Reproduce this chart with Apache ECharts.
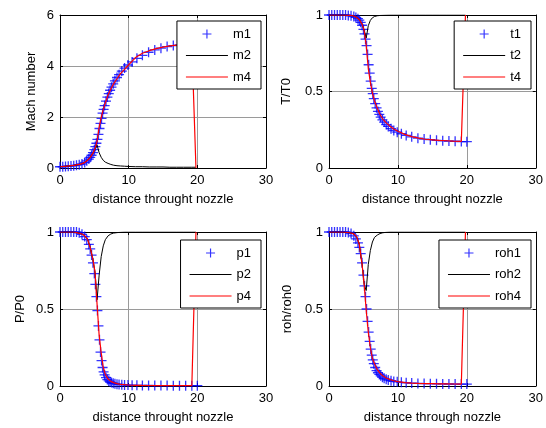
<!DOCTYPE html>
<html>
<head>
  <meta charset="utf-8">
  <title>nozzle flow</title>
  <script src="https://cdn.jsdelivr.net/npm/echarts@6/dist/echarts.min.js"></script>
</head>
<body style="margin:0">
  <div id="main" style="width:546px;height:428px;"></div>
  <script type="text/javascript">
    // blue "+" samples
    var xBlue = [0, 0.4, 0.8, 1.2, 1.6, 2.0, 2.4, 2.8, 3.2, 3.6,
      3.9, 4.2, 4.4, 4.6, 4.8, 5.0, 5.15, 5.3, 5.45, 5.6,
      5.75, 5.9, 6.05, 6.2, 6.35, 6.5, 6.7, 6.9, 7.1, 7.3,
      7.5, 7.75, 8.0, 8.3, 8.6, 9.0, 9.4, 9.9, 10.5, 11.2,
      12.0, 12.9, 13.8, 14.7, 15.6, 16.5, 17.4, 18.3, 19.2, 20.0];
    var m1 = [0.05, 0.05, 0.06, 0.07, 0.08, 0.09, 0.11, 0.13, 0.16, 0.22,
      0.28, 0.35, 0.42, 0.5, 0.6, 0.72, 0.84, 0.97, 1.12, 1.32,
      1.55, 1.75, 1.95, 2.15, 2.3, 2.45, 2.62, 2.78, 2.92, 3.05,
      3.17, 3.3, 3.42, 3.55, 3.66, 3.8, 3.92, 4.04, 4.16, 4.3,
      4.42, 4.54, 4.63, 4.7, 4.76, 4.8, 4.83, 4.86, 4.88, 4.9];
    var t1 = [1, 1, 1, 1, 1, 1, 1, 0.997, 0.995, 0.99,
      0.984, 0.976, 0.966, 0.952, 0.933, 0.906, 0.876, 0.842, 0.8, 0.742,
      0.675, 0.62, 0.568, 0.52, 0.486, 0.454, 0.421, 0.393, 0.37, 0.35,
      0.332, 0.315, 0.3, 0.284, 0.272, 0.257, 0.245, 0.234, 0.224, 0.213,
      0.204, 0.195, 0.189, 0.185, 0.181, 0.178, 0.176, 0.175, 0.173, 0.172];
    var p1 = [1, 1, 1, 1, 1, 1, 1, 0.995, 0.985, 0.97,
      0.95, 0.92, 0.89, 0.85, 0.8, 0.73, 0.66, 0.58, 0.49, 0.39,
      0.3, 0.22, 0.165, 0.12, 0.092, 0.072, 0.054, 0.042, 0.033, 0.027,
      0.022, 0.018, 0.015, 0.012, 0.01, 0.0085, 0.0072, 0.006, 0.005, 0.0044,
      0.0038, 0.0033, 0.003, 0.0027, 0.0025, 0.0024, 0.0023, 0.0022, 0.0021, 0.002];
    var roh1 = [1, 1, 1, 1, 1, 1, 1, 0.997, 0.99, 0.975,
      0.955, 0.93, 0.9, 0.86, 0.8, 0.72, 0.65, 0.58, 0.5, 0.42,
      0.35, 0.29, 0.24, 0.2, 0.17, 0.145, 0.12, 0.1, 0.086, 0.075,
      0.066, 0.057, 0.05, 0.044, 0.039, 0.034, 0.03, 0.027, 0.024, 0.021,
      0.019, 0.017, 0.016, 0.015, 0.014, 0.0135, 0.013, 0.0128, 0.0125, 0.0123];

    // black (2) and red (4) lines
    var xLine = [0, 1, 2, 3, 3.5, 4, 4.4, 4.8, 5.1, 5.4,
      5.7, 6.0, 6.3, 6.6, 7.0, 7.4, 7.8, 8.3, 8.8, 9.4,
      10, 11, 12, 13, 14, 15, 16, 17, 18, 19.2, 19.8];
    var m2 = [0.05, 0.07, 0.1, 0.15, 0.2, 0.3, 0.42, 0.58, 0.76, 0.9,
      0.6, 0.42, 0.3, 0.23, 0.18, 0.14, 0.11, 0.09, 0.08, 0.07,
      0.06, 0.05, 0.05, 0.04, 0.04, 0.04, 0.03, 0.03, 0.03, 0.03, 0.03];
    var m4 = [0.05, 0.07, 0.1, 0.15, 0.2, 0.3, 0.42, 0.58, 0.76, 1.05,
      1.6, 1.98, 2.3, 2.55, 2.86, 3.1, 3.3, 3.5, 3.7, 3.87,
      4.05, 4.33, 4.5, 4.6, 4.68, 4.74, 4.79, 4.82, 4.85, 4.87, 0];
    var t2 = [1, 1, 1, 0.998, 0.995, 0.985, 0.97, 0.94, 0.9, 0.85,
      0.93, 0.965, 0.982, 0.99, 0.995, 0.997, 0.998, 0.999, 1, 1,
      1, 1, 1, 1, 1, 1, 1, 1, 1, 1, 1];
    var t4 = [1, 1, 1, 0.998, 0.995, 0.985, 0.97, 0.94, 0.9, 0.8,
      0.65, 0.56, 0.49, 0.44, 0.39, 0.35, 0.32, 0.295, 0.275, 0.255,
      0.24, 0.22, 0.205, 0.195, 0.188, 0.184, 0.18, 0.178, 0.176, 0.174, 1];
    var p2 = [1, 1, 1, 0.99, 0.98, 0.955, 0.9, 0.82, 0.74, 0.56,
      0.72, 0.84, 0.91, 0.95, 0.975, 0.987, 0.993, 0.996, 0.998, 1,
      1, 1, 1, 1, 1, 1, 1, 1, 1, 1, 1];
    var p4 = [1, 1, 1, 0.99, 0.98, 0.955, 0.9, 0.82, 0.74, 0.53,
      0.33, 0.215, 0.12, 0.075, 0.045, 0.03, 0.022, 0.015, 0.011, 0.0085,
      0.0065, 0.0045, 0.0037, 0.0032, 0.0028, 0.0026, 0.0024, 0.0023, 0.0022, 0.0021, 1];
    var roh2 = [1, 1, 1, 0.995, 0.99, 0.97, 0.92, 0.79, 0.66, 0.62,
      0.79, 0.88, 0.935, 0.965, 0.98, 0.99, 0.995, 0.998, 1, 1,
      1, 1, 1, 1, 1, 1, 1, 1, 1, 1, 1];
    var roh4 = [1, 1, 1, 0.995, 0.99, 0.97, 0.92, 0.79, 0.66, 0.49,
      0.35, 0.25, 0.18, 0.145, 0.107, 0.083, 0.066, 0.052, 0.043, 0.034,
      0.028, 0.022, 0.019, 0.017, 0.016, 0.015, 0.014, 0.0135, 0.013, 0.0125, 1];

    var xTicks = { min: 0, max: 30, interval: 10 };

    var font = 'Liberation Sans, Arial, sans-serif';
    var plusPath = 'path://M4.35,0H5.65V4.35H10V5.65H5.65V10H4.35V5.65H0V4.35H4.35Z';
    var linePath = 'path://M0,0H42V1H0Z';

    var panels = [
      { grid: { left: 60, top: 15, width: 206, height: 153 }, yMax: 6, yStep: 2, yName: 'Mach number', yGap: 22,
        xName: 'distance throught nozzle', names: ['m1', 'm2', 'm4'], data: [m1, m2, m4], legendRight: 285, legendTop: 21 },
      { grid: { left: 329, top: 15, width: 207, height: 153 }, yMax: 1, yStep: 0.5, yName: 'T/T0', yGap: 36,
        xName: 'distance throught nozzle', names: ['t1', 't2', 't4'], data: [t1, t2, t4], legendRight: 15, legendTop: 21 },
      { grid: { left: 60, top: 232, width: 206, height: 154 }, yMax: 1, yStep: 0.5, yName: 'P/P0', yGap: 33,
        xName: 'distance throught nozzle', names: ['p1', 'p2', 'p4'], data: [p1, p2, p4], legendRight: 285, legendTop: 240 },
      { grid: { left: 329, top: 232, width: 207, height: 154 }, yMax: 1, yStep: 0.5, yName: 'roh/roh0', yGap: 35,
        xName: 'distance through nozzle', names: ['roh1', 'roh2', 'roh4'], data: [roh1, roh2, roh4], legendRight: 15, legendTop: 240 }
    ];

    var axisLine = { onZero: false, lineStyle: { color: '#000', width: 1 } };
    var tick = { inside: true, length: 3, lineStyle: { color: '#000' } };
    var split = { show: true, lineStyle: { color: '#9a9a9a', width: 1 } };
    var label = { color: '#000', fontSize: 13, fontFamily: font };

    var option = { animation: false, backgroundColor: '#fff', grid: [], xAxis: [], yAxis: [], legend: [], series: [] };

    panels.forEach(function (p, i) {
      option.grid.push(p.grid);
      option.xAxis.push({
        type: 'value', gridIndex: i, position: 'bottom', min: xTicks.min, max: xTicks.max, interval: xTicks.interval,
        axisLine: axisLine, axisTick: tick, splitLine: split,
        axisLabel: Object.assign({ margin: 6 }, label),
        name: p.xName, nameLocation: 'middle', nameGap: 25,
        nameTextStyle: { color: '#000', fontSize: 13, fontFamily: font }
      });
      option.xAxis.push({
        type: 'value', gridIndex: i, position: 'top', min: xTicks.min, max: xTicks.max, interval: xTicks.interval,
        axisLine: axisLine, axisTick: tick, splitLine: { show: false }, axisLabel: { show: false }
      });
      option.yAxis.push({
        type: 'value', gridIndex: i, position: 'left', min: 0, max: p.yMax, interval: p.yStep,
        axisLine: axisLine, axisTick: tick, splitLine: split,
        axisLabel: Object.assign({ margin: 6 }, label),
        name: p.yName, nameLocation: 'middle', nameGap: p.yGap,
        nameTextStyle: { color: '#000', fontSize: 13, fontFamily: font }
      });
      option.yAxis.push({
        type: 'value', gridIndex: i, position: 'right', min: 0, max: p.yMax, interval: p.yStep,
        axisLine: axisLine, axisTick: tick, splitLine: { show: false }, axisLabel: { show: false }
      });

      var xi = 2 * i;
      option.series.push({
        name: p.names[0], type: 'scatter', xAxisIndex: xi, yAxisIndex: xi, clip: false,
        symbol: plusPath, symbolSize: 10, itemStyle: { color: '#0000ff' },
        data: xBlue.map(function (x, k) { return [x, p.data[0][k]]; })
      });
      option.series.push({
        name: p.names[1], type: 'line', xAxisIndex: xi, yAxisIndex: xi, showSymbol: false, symbol: 'none',
        color: '#000', lineStyle: { color: '#000', width: 1 },
        data: xLine.map(function (x, k) { return [x, p.data[1][k]]; })
      });
      option.series.push({
        name: p.names[2], type: 'line', xAxisIndex: xi, yAxisIndex: xi, showSymbol: false, symbol: 'none',
        color: '#ff0000', lineStyle: { color: '#ff0000', width: 1.2 },
        data: xLine.map(function (x, k) { return [x, p.data[2][k]]; })
      });

      option.legend.push({
        orient: 'vertical', right: p.legendRight, top: p.legendTop, selectedMode: false,
        padding: [6, 10, 5, 9], itemGap: 7.5, itemWidth: 42, itemHeight: 9,
        borderColor: '#000', borderWidth: 1, borderRadius: 0, backgroundColor: '#fff',
        textStyle: { color: '#000', fontSize: 13, lineHeight: 14, fontFamily: font },
        data: [
          { name: p.names[0], icon: plusPath },
          { name: p.names[1], icon: linePath },
          { name: p.names[2], icon: linePath }
        ]
      });
    });

    var myChart = echarts.init(document.getElementById('main'), null, { renderer: 'canvas' });
    myChart.setOption(option);
  </script>
</body>
</html>
